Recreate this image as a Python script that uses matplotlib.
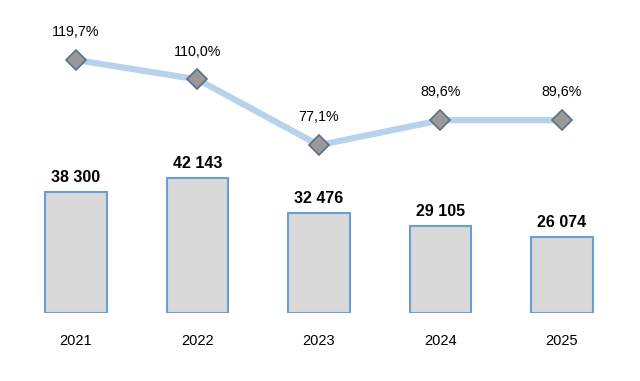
import numpy as np
import matplotlib.pyplot as plt

plt.rcParams['font.family'] = ['Liberation Sans', 'DejaVu Sans']

years = ["2021", "2022", "2023", "2024", "2025"]
volumes = [38300, 42143, 32476, 29105, 26074]
shares = [119.7, 110.0, 77.1, 89.6, 89.6]


def fmt_thousands(v):
    return "{:,}".format(v).replace(",", " ")


def fmt_pct(v):
    return "{:.1f}%".format(v).replace(".", ",")


fig = plt.figure(figsize=(6.4, 3.81), dpi=100)
# bar axes: bottom edge sits on the bars' base line
ax = fig.add_axes([0, 68 / 381, 1, 313 / 381])
x = np.arange(len(years))
base = 5350
ax.bar(x, np.array(volumes) - base, bottom=base, width=0.51,
       color="#d9d9d9", edgecolor="#6a9fd4", linewidth=1.5, zorder=2)
for xi, v in zip(x, volumes):
    ax.annotate(fmt_thousands(v), (xi, v), xytext=(0, 5), textcoords="offset points",
                ha="center", va="bottom", fontsize=11.5, fontweight="bold")
ax.set_xlim(-0.6255, 4.642)
ax.set_ylim(base, base + 313 * 271.7)
ax.set_xticks(x)
ax.set_xticklabels(years, fontsize=10.5)
ax.tick_params(axis="x", length=0, pad=15)
ax.set_yticks([])
for s in ax.spines.values():
    s.set_visible(False)

# line on its own scale
ax2 = ax.twinx()
ax2.plot(x, shares, color="#b8d2ec", linewidth=4.5, marker="D", markersize=10.5,
         markerfacecolor="#999999", markeredgecolor="#5b6f87", markeredgewidth=1.2,
         zorder=3)
for xi, v in zip(x, shares):
    ax2.annotate(fmt_pct(v), (xi, v), xytext=(0, 20), textcoords="offset points",
                 ha="center", va="center", fontsize=10.3)
ax2.set_ylim(119.7 - 253 / 2, 149.7)
ax2.set_yticks([])
for s in ax2.spines.values():
    s.set_visible(False)

fig.savefig("out.png", dpi=100)
